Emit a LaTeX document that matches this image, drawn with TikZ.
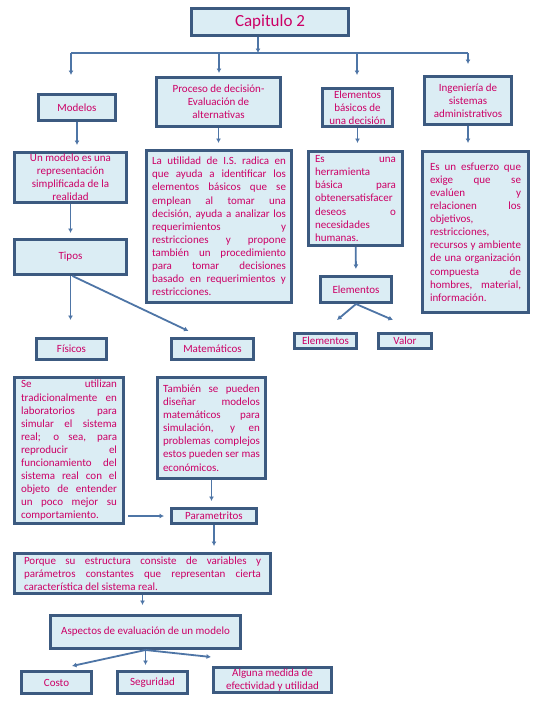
\documentclass[tikz,border=0pt]{standalone}
\usepackage{fontspec}
\setmainfont{Carlito}
\usetikzlibrary{positioning, arrows.meta}

\definecolor{boxline}{RGB}{60,90,128}
\definecolor{boxfill}{RGB}{219,237,244}
\definecolor{txt}{RGB}{204,0,102}
\definecolor{arrowc}{RGB}{78,117,166}

% justified lines with forced breaks
\tolerance=10000
\hbadness=10000
\hyphenpenalty=10000
\newcommand{\nl}{\linebreak}

\begin{document}
\begin{tikzpicture}[x=1pt, y=-1pt,
    box/.style 2 args={draw=boxline, fill=boxfill, line width=3pt, text=txt,
        minimum width=#1, minimum height=#2, inner sep=0pt, align=center,
        font=\fontsize{11}{13.1}\selectfont},
    para/.style={text width=#1, align=justify},
    conn/.style={draw=arrowc, line width=1.8pt, -{Latex[length=4.5pt,width=5pt]}},
    bar/.style={draw=arrowc, line width=1.8pt}]
    \fill[white] (0,0) rectangle (540,720);
    \useasboundingbox (0,0) rectangle (540,720);

    % Title
    \node[box={157}{27}, font=\fontsize{17}{20}\selectfont] (cap) at (270,22) {Capitulo 2};

    % First row
    \node[box={77}{26}] (modelos) at (77,107.5) {Modelos};
    \node[box={124}{49}] (proceso) at (218.5,102) {Proceso de decisión-\\Evaluación de\\alternativas};
    \node[box={70}{38}] (elembas) at (357.5,107.5) {Elementos\\básicos de\\una decisión};
    \node[box={87}{48}] (ingen) at (468,100.5) {Ingeniería de\\sistemas\\administrativos};

    % Descriptions
    \node[box={112}{50}] (unmodelo) at (70.5,177.5) {Un modelo es una\\representación\\simplificada de la\\realidad};
    \node[box={145}{152}, para=134pt] (utilidad) at (219,226.5) {%
        La utilidad de I.S. radica en\nl
        que ayuda a identificar los\nl
        elementos básicos que se\nl
        emplean al tomar una\nl
        decisión, ayuda a analizar los\nl
        requerimientos y\nl
        restricciones y propone\nl
        también un procedimiento\nl
        para tomar decisiones\nl
        basado en requerimientos y\nl
        restricciones.};
    \node[box={94}{94}, para=81pt] (herram) at (355.5,198.5) {%
        Es una\nl
        herramienta\nl
        básica para\nl
        obtenersatisfacer\nl
        deseos o\nl
        necesidades\nl
        humanas.};
    \node[box={106}{161}, para=91pt] (esfuerzo) at (475.5,232) {%
        Es un esfuerzo que\nl
        exige que se\nl
        evalúen y\nl
        relacionen los\nl
        objetivos,\nl
        restricciones,\nl
        recursos y ambiente\nl
        de una organización\nl
        compuesta de\nl
        hombres, material,\nl
        información.};

    % Tipos
    \node[box={112}{35}] (tipos) at (70.5,257) {Tipos};
    \node[box={70}{21}] (fisicos) at (71.5,349) {Físicos};
    \node[box={82}{21}] (matem) at (212.5,349) {Matemáticos};

    % Elementos
    \node[box={71}{26}] (elementos) at (356,289.5) {Elementos};
    \node[box={62}{15}] (elem2) at (325.5,341) {Elementos};
    \node[box={53}{15}] (valor) at (405,341) {Valor};

    % Lower part
    \node[box={109}{146}, para=96pt] (utilizan) at (69,450.5) {%
        Se utilizan\nl
        tradicionalmente en\nl
        laboratorios para\nl
        simular el sistema\nl
        real; o sea, para\nl
        reproducir el\nl
        funcionamiento del\nl
        sistema real con el\nl
        objeto de entender\nl
        un poco mejor su\nl
        comportamiento.};
    \node[box={108}{101}, para=97pt] (tambien) at (211.5,428) {%
        También se pueden\nl
        diseñar modelos\nl
        matemáticos para\nl
        simulación, y en\nl
        problemas complejos\nl
        estos pueden ser mas\nl
        económicos.};
    \node[box={85}{15}] (param) at (214,516) {Parametritos};
    \node[box={256}{40}, para=237pt] (porque) at (142.5,573.5) {%
        Porque su estructura consiste de variables y\nl
        parámetros constantes que representan cierta\nl
        característica del sistema real.};
    \node[box={190}{33}] (aspectos) at (145.5,632) {Aspectos de evaluación de un modelo};
    \node[box={70}{22}] (costo) at (56.5,682.5) {Costo};
    \node[box={70}{22}] (segur) at (152.5,682.5) {Seguridad};
    \node[box={118}{25}] (alguna) at (272.5,680) {Alguna medida de\\efectividad y utilidad};

    % Top bar
    \coordinate (barM) at (258,53);
    \coordinate (barL) at (71,53);
    \coordinate (barR) at (468,53);
    \coordinate (dModelos) at (71,75);
    \coordinate (dProceso) at (219,73);
    \coordinate (dElem) at (357,75);
    \coordinate (dIng) at (468,64);
    \draw[conn] ([xshift=-12pt]cap.south) -- (barM);
    \draw[bar] (barL) -- (barR);
    \draw[conn] (barL) -- (dModelos);
    \draw[conn] (dProceso |- barM) -- (dProceso);
    \draw[conn] (dElem |- barM) -- (dElem);
    \draw[conn] (barR) -- (dIng);

    % Arrows to descriptions
    \draw[conn, shorten >=6pt] (modelos.south) -- (modelos.south |- unmodelo.north);
    \draw[conn, shorten >=6pt] (proceso.south) -- (proceso.south |- utilidad.north);
    \draw[conn, shorten >=7pt] (elembas.south) -- (elembas.south |- herram.north);
    \draw[conn, shorten >=7pt] (ingen.south) -- (ingen.south |- esfuerzo.north);

    % Models branch
    \draw[conn, shorten >=5pt] (unmodelo) -- (tipos);
    \draw[conn, shorten >=17pt] (tipos.south) -- (tipos.south |- fisicos.north);
    \draw[conn] ([xshift=2pt]tipos.south) -- ([xshift=-24pt,yshift=6pt]matem.north);

    % Elements branch
    \draw[conn, shorten >=6pt] (herram) -- (elementos);
    \draw[conn] (elementos.south) -- ([xshift=11.5pt,yshift=12pt]elem2.north);
    \draw[conn] (elementos.south) -- ([xshift=-12pt,yshift=12pt]valor.north);

    % Parametritos
    \draw[conn, shorten >=6pt] (tambien.south) -- (tambien.south |- param.north);
    \draw[conn, shorten <=3pt, shorten >=6pt] (utilizan.east |- param) -- (param.west);
    \draw[conn, shorten >=6pt] (param.south) -- (param.south |- porque.north);
    \draw[conn, shorten >=9pt] (porque.south) -- (porque.south |- aspectos.north);

    % Aspects
    \draw[conn] (aspectos.south) -- ([xshift=15.5pt,yshift=4pt]costo.north);
    \draw[conn, shorten >=5pt] (aspectos.south) -- (aspectos.south |- segur.north);
    \draw[conn] (aspectos.south) -- ([xshift=-1pt,yshift=9pt]alguna.north west);

\end{tikzpicture}
\end{document}
